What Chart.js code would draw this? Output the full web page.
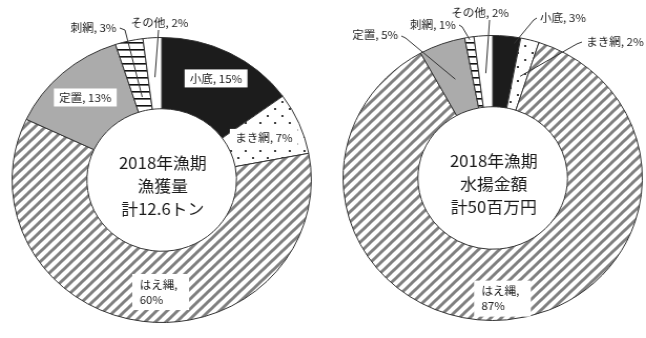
<!DOCTYPE html>
<html>
<head>
<meta charset="utf-8">
<script src="https://cdn.jsdelivr.net/npm/chart.js@4.4.1/dist/chart.umd.min.js"></script>
<style>
  html, body { margin: 0; padding: 0; background: #fff; overflow: hidden; }
  body { width: 646px; height: 338px; position: relative; }
  /* the scanned original is slightly wider than tall, so stretch each panel a little */
  .panel { position: absolute; top: 0; width: 308px; height: 338px; transform: scaleX(1.05); transform-origin: 0 0; }
</style>
</head>
<body>
<div class="panel" style="left:0px"><canvas id="catchChart" width="308" height="338"></canvas></div>
<div class="panel" style="left:331px"><canvas id="valueChart" width="308" height="338"></canvas></div>
<script>
// Data
const categories = ['小底', 'まき網', 'はえ縄', '定置', '刺網', 'その他'];
const catchShares = [15, 7, 60, 13, 3, 2];   // 漁獲量 (%)
const valueShares = [3, 2, 87, 5, 1, 2];     // 水揚金額 (%)
const catchTitle = ['2018年漁期', '漁獲量', '計12.6トン'];
const valueTitle = ['2018年漁期', '水揚金額', '計50百万円'];

const FONT = '"Noto Sans CJK JP", "Noto Sans", sans-serif';

// Fill patterns, one per category
function makePattern(kind) {
    const c = document.createElement('canvas');
    const ctx = c.getContext('2d');
    if (kind === 'stripes') {
        c.width = c.height = 10;
        ctx.fillStyle = '#fff';
        ctx.fillRect(0, 0, 10, 10);
        ctx.strokeStyle = '#808080';
        ctx.lineWidth = 3;
        [[-10, 10, 10, -10], [0, 10, 10, 0], [0, 20, 20, 0]].forEach(s => {
            ctx.beginPath();
            ctx.moveTo(s[0], s[1]);
            ctx.lineTo(s[2], s[3]);
            ctx.stroke();
        });
    } else if (kind === 'dots') {
        c.width = c.height = 14;
        ctx.fillStyle = '#fff';
        ctx.fillRect(0, 0, 14, 14);
        ctx.fillStyle = '#111';
        [[3, 4], [10, 11]].forEach(p => {
            ctx.beginPath();
            ctx.arc(p[0], p[1], 1.1, 0, Math.PI * 2);
            ctx.fill();
        });
    } else if (kind === 'hlines') {
        c.width = c.height = 7;
        ctx.fillStyle = '#fff';
        ctx.fillRect(0, 0, 7, 7);
        ctx.fillStyle = '#111';
        ctx.fillRect(0, 0, 7, 1.6);
    }
    return document.createElement('canvas').getContext('2d').createPattern(c, 'repeat');
}

const sliceFills = ['#1c1c1c', makePattern('dots'), makePattern('stripes'), '#ababab', makePattern('hlines'), '#ffffff'];

// Label placement (inside: radius + angle nudge; outside: text spot and leader line)
const catchLabelSpots = [
    { r: 114, box: true },
    { r: 106, box: true },
    { r: 112, da: -6.7, box: true, twoLine: true },
    { r: 110, box: true },
    { text: [-43, -152], align: 'right', leader: [[-40, -152], [-35, -150]], r: 85 },
    { text: [-2, -157], align: 'center', leader: [[-3, -150]], r: 103 }
];
const valueLabelSpots = [
    { text: [45, -160], align: 'left', leader: [[42, -160], [39, -158]], r: 136, t: 0.8 },
    { text: [89, -136], align: 'left', leader: [[85, -136], [80, -134]], r: 105 },
    { r: 121, da: 1, box: true, twoLine: true },
    { text: [-90, -143], align: 'right', leader: [[-87, -142], [-83, -140]], r: 105 },
    { text: [-35, -153], align: 'right', leader: [[-32, -153], [-29, -151]], r: 140 },
    { text: [-12, -165], align: 'center', leader: [[-3, -158]], r: 105 }
];

const sliceLabels = {
    id: 'sliceLabels',
    afterDatasetsDraw(chart, args, opts) {
        const ctx = chart.ctx;
        const arcs = chart.getDatasetMeta(0).data;
        const values = chart.data.datasets[0].data;
        const cx = arcs[0].x, cy = arcs[0].y;
        ctx.save();
        ctx.font = '11px ' + FONT;
        ctx.textBaseline = 'middle';
        ctx.fillStyle = '#222';

        arcs.forEach((arc, i) => {
            const spot = opts.spots[i];
            const name = chart.data.labels[i];
            const t = spot.t === undefined ? 0.5 : spot.t;
            let ang = arc.startAngle + (arc.endAngle - arc.startAngle) * t;
            if (spot.da) ang += spot.da * Math.PI / 180;

            if (spot.box) {
                const px = cx + spot.r * Math.cos(ang);
                const py = cy + spot.r * Math.sin(ang);
                const lines = spot.twoLine ? [name + ',', values[i] + '%'] : [name + ', ' + values[i] + '%'];
                const lh = 15;
                const w = Math.max(...lines.map(l => ctx.measureText(l).width)) + (spot.twoLine ? 18 : 10);
                const h = lines.length * lh + (spot.twoLine ? 6 : 3);
                ctx.fillStyle = '#fff';
                ctx.fillRect(px - w / 2, py - h / 2, w, h);
                ctx.fillStyle = '#222';
                ctx.textAlign = 'left';
                const x0 = px - w / 2 + (spot.twoLine ? 7 : 5);
                lines.forEach((l, k) => {
                    ctx.fillText(l, x0, py - (lines.length - 1) * lh / 2 + k * lh);
                });
            } else {
                ctx.textAlign = spot.align;
                ctx.fillText(name + ', ' + values[i] + '%', cx + spot.text[0], cy + spot.text[1]);
                const ex = cx + spot.r * Math.cos(ang);
                const ey = cy + spot.r * Math.sin(ang);
                ctx.strokeStyle = '#333';
                ctx.lineWidth = 1;
                ctx.beginPath();
                spot.leader.forEach((p, k) => {
                    if (k === 0) ctx.moveTo(cx + p[0], cy + p[1]);
                    else ctx.lineTo(cx + p[0], cy + p[1]);
                });
                ctx.lineTo(ex, ey);
                ctx.stroke();
            }
        });

        // title in the hole
        ctx.font = '16px ' + FONT;
        ctx.textAlign = 'center';
        ctx.fillStyle = '#1a1a1a';
        opts.title.forEach((line, k) => {
            ctx.fillText(line, cx + 1, cy - 17 + k * 23);
        });
        ctx.restore();
    }
};

function createShareDonut(canvasId, shares, title, spots, padTop, padBottom) {
    return new Chart(document.getElementById(canvasId), {
        type: 'doughnut',
        data: {
            labels: categories,
            datasets: [{
                data: shares,
                backgroundColor: sliceFills,
                borderColor: '#333',
                borderWidth: 1
            }]
        },
        options: {
            responsive: false,
            animation: false,
            events: [],
            cutout: '50%',
            layout: { padding: { top: padTop, bottom: padBottom, left: 0, right: 0 } },
            plugins: {
                legend: { display: false },
                tooltip: { enabled: false },
                sliceLabels: { title: title, spots: spots }
            }
        },
        plugins: [sliceLabels]
    });
}

createShareDonut('catchChart', catchShares, catchTitle, catchLabelSpots, 37, 15);
createShareDonut('valueChart', valueShares, valueTitle, valueLabelSpots, 35, 17);
</script>
</body>
</html>
